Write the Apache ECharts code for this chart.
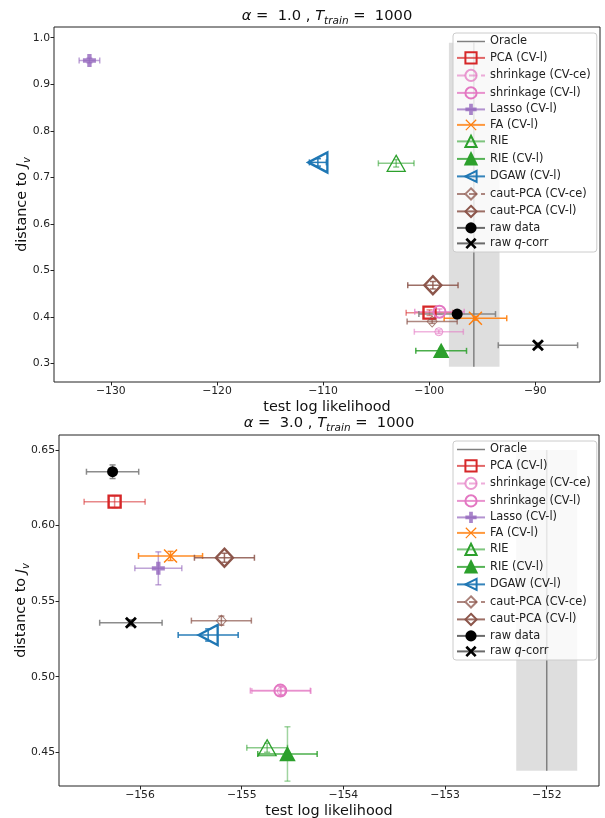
<!DOCTYPE html>
<html>
<head>
<meta charset="utf-8">
<script src="https://cdn.jsdelivr.net/npm/echarts@6/dist/echarts.min.js"></script>
<style>html,body{margin:0;padding:0;background:#fff}#c{width:605px;height:818px}</style>
</head>
<body>
<div id="c"></div>
<script>
// ---------- data ----------
const methods = ['PCA (CV-l)', 'shrinkage (CV-ce)', 'shrinkage (CV-l)', 'Lasso (CV-l)', 'FA (CV-l)', 'RIE',
  'RIE (CV-l)', 'DGAW (CV-l)', 'caut-PCA (CV-ce)', 'caut-PCA (CV-l)', 'raw data', 'raw q-corr'];

// alpha = 1.0
const llA1      = [-99.97, -99.09, -99.03, -132.02, -95.64, -103.11, -98.87, -110.49, -99.72, -99.65, -97.36, -89.75];
const llErrA1   = [2.2, 2.31, 2.33, 0.97, 2.95, 1.68, 2.39, 0.8, 2.36, 2.37, 3.61, 3.74];
const distA1    = [0.409, 0.368, 0.411, 0.951, 0.397, 0.730, 0.327, 0.732, 0.390, 0.468, 0.406, 0.339];
const distErrA1 = [0.006, 0.004, 0.006, 0.005, 0.004, 0.008, 0.005, 0.008, 0.004, 0.008, 0.006, 0.005];
const oracleLLA1   = -95.79;
const oracleBandA1 = [-98.14, -93.37];
const oracleSpanA1 = [0.293, 0.989];

// alpha = 3.0
const llA3      = [-156.25, -154.61, -154.62, -155.82, -155.70, -154.75, -154.55, -155.33, -155.20, -155.17, -156.27, -156.09];
const llErrA3   = [0.30, 0.29, 0.295, 0.231, 0.315, 0.20, 0.292, 0.295, 0.295, 0.295, 0.257, 0.307];
const distA3    = [0.6158, 0.4905, 0.4908, 0.5717, 0.5799, 0.4530, 0.4489, 0.5276, 0.5371, 0.5787, 0.6356, 0.5357];
const distErrA3 = [0.004, 0.003, 0.003, 0.0109, 0.003, 0.003, 0.018, 0.004, 0.003, 0.003, 0.0045, 0.002];
const oracleLLA3   = -152.0;
const oracleBandA3 = [-152.30, -151.70];
const oracleSpanA3 = [0.4378, 0.650];

// tick labels
const llTicksA1   = [-130, -120, -110, -100, -90];
const distTicksA1 = [0.3, 0.4, 0.5, 0.6, 0.7, 0.8, 0.9, 1.0];
const llTicksA3   = [-156, -155, -154, -153, -152];
const distTicksA3 = [0.45, 0.50, 0.55, 0.60, 0.65];

// ---------- styles ----------
const FONT = 'DejaVu Sans';
const C = {blue:'#1f77b4', orange:'#ff7f0e', green:'#2ca02c', red:'#d62728', purple:'#9467bd', brown:'#8c564b', pink:'#e377c2'};
const NONE = 'rgba(0,0,0,0)';
const PLUS = 'path://M-1,-3H1V-1H3V1H1V3H-1V1H-3V-1H-1Z';
const XTHIN = 'path://M-10,-8.5L-8.5,-10L0,-1.5L8.5,-10L10,-8.5L1.5,0L10,8.5L8.5,10L0,1.5L-8.5,10L-10,8.5L-1.5,0Z';
const XTHICK = 'path://M-3,-2L-2,-3L0,-1L2,-3L3,-2L1,0L3,2L2,3L0,1L-2,3L-3,2L-1,0Z';
const TRILEFT = 'path://M-1,0L1,-1L1,1Z';
const styles = [
  {symbol:'rect', size:12, fill:NONE, stroke:C.red, bw:2.4, err:'rgba(214,39,40,0.55)', line:'rgba(214,39,40,0.7)'},
  {symbol:'circle', size:8, fill:NONE, stroke:'rgba(227,119,194,0.75)', bw:1, err:'rgba(227,119,194,0.55)', line:'rgba(227,119,194,0.6)', dash:true},
  {symbol:'circle', size:12, fill:NONE, stroke:C.pink, bw:2, err:'rgba(227,119,194,0.7)', line:'rgba(227,119,194,0.8)'},
  {symbol:PLUS, size:13, fill:'rgba(148,103,189,0.8)', stroke:NONE, bw:0, err:'rgba(148,103,189,0.6)', line:'rgba(148,103,189,0.7)'},
  {symbol:XTHIN, size:14, fill:C.orange, stroke:NONE, bw:0, err:'rgba(255,127,14,0.9)', line:'rgba(255,127,14,0.8)'},
  {symbol:'triangle', size:[18,16], fill:NONE, stroke:C.green, bw:1.3, err:'rgba(44,160,44,0.55)', line:'rgba(44,160,44,0.6)'},
  {symbol:'triangle', size:[14,13], fill:C.green, stroke:C.green, bw:1.5, err:'rgba(44,160,44,0.85)', errY:'rgba(44,160,44,0.45)', line:'rgba(44,160,44,0.8)'},
  {symbol:TRILEFT, size:[19,20], fill:NONE, stroke:C.blue, bw:2.4, err:'rgba(31,119,180,0.95)', line:'rgba(31,119,180,0.9)'},
  {symbol:'diamond', size:[10,11], fill:NONE, stroke:'rgba(140,86,75,0.75)', bw:1, err:'rgba(140,86,75,0.7)', line:'rgba(140,86,75,0.7)', dash:true},
  {symbol:'diamond', size:[17,18], fill:NONE, stroke:C.brown, bw:2.4, err:'rgba(140,86,75,0.85)', line:'rgba(140,86,75,0.85)'},
  {symbol:'circle', size:11, fill:'#000', stroke:NONE, bw:0, err:'rgba(128,128,128,0.9)', line:'rgba(90,90,90,0.9)'},
  {symbol:XTHICK, size:12, fill:'#000', stroke:NONE, bw:0, err:'rgba(128,128,128,0.9)', line:'rgba(90,90,90,0.9)'}
];

function errRender(params, api) {
  const x = api.value(0), y = api.value(1), ex = api.value(2), ey = api.value(3), k = api.value(4);
  const st = styles[k];
  const l = api.coord([x - ex, y]), r = api.coord([x + ex, y]);
  const t = api.coord([x, y + ey]), b = api.coord([x, y - ey]);
  const cap = 3;
  const sx = {stroke: st.err, lineWidth: 1.5};
  const sy = {stroke: st.errY || st.err, lineWidth: 1.5};
  return {type:'group', children:[
    {type:'line', shape:{x1:l[0], y1:l[1], x2:r[0], y2:r[1]}, style:sx},
    {type:'line', shape:{x1:l[0], y1:l[1]-cap, x2:l[0], y2:l[1]+cap}, style:sx},
    {type:'line', shape:{x1:r[0], y1:r[1]-cap, x2:r[0], y2:r[1]+cap}, style:sx},
    {type:'line', shape:{x1:t[0], y1:t[1], x2:b[0], y2:b[1]}, style:sy},
    {type:'line', shape:{x1:t[0]-cap, y1:t[1], x2:t[0]+cap, y2:t[1]}, style:sy},
    {type:'line', shape:{x1:b[0]-cap, y1:b[1], x2:b[0]+cap, y2:b[1]}, style:sy}
  ]};
}

function chartSeries(gi, ll, llErr, dist, distErr, oLL, oBand, oSpan) {
  const out = [];
  out.push({
    type:'line', name:'Oracle', xAxisIndex:gi, yAxisIndex:gi, silent:true, z:1,
    data:[[oLL, oSpan[0]], [oLL, oSpan[1]]], symbol:'none',
    lineStyle:{color:'#808080', width:1.5}, itemStyle:{color:'#808080'},
    markArea:{silent:true, itemStyle:{color:'rgba(0,0,0,0.13)'},
      data:[[{coord:[oBand[0], oSpan[0]]}, {coord:[oBand[1], oSpan[1]]}]]}
  });
  out.push({
    type:'custom', xAxisIndex:gi, yAxisIndex:gi, silent:true, z:2,
    data: methods.map((m, i) => [ll[i], dist[i], llErr[i], distErr[i], i]),
    encode:{x:0, y:1}, renderItem: errRender
  });
  methods.forEach((m, i) => {
    const st = styles[i];
    out.push({
      type:'line', name:m, xAxisIndex:gi, yAxisIndex:gi, silent:true, z:3,
      data:[[ll[i], dist[i]]], showSymbol:true, symbol:st.symbol, symbolSize:st.size,
      itemStyle:{color:st.fill, borderColor:st.stroke, borderWidth:st.bw},
      lineStyle:{color:st.line, width:1.5, type: st.dash ? 'dashed' : 'solid'},
      emphasis:{disabled:true}
    });
  });
  return out;
}

const minus = v => (v < 0 ? '\u2212' : '') + Math.abs(v);
const axisCommon = {
  axisLine:{show:false}, splitLine:{show:false},
  axisTick:{show:true, length:3.5, lineStyle:{color:'#222', width:1}},
  axisLabel:{fontSize:10.8, fontFamily:FONT, color:'#222', margin:4}
};
const nameRich = {
  n:{fontSize:14.4, fontFamily:FONT, color:'#111', lineHeight:20},
  i:{fontSize:14.4, fontFamily:FONT, fontStyle:'italic', color:'#111', lineHeight:20},
  s:{fontSize:10, fontFamily:FONT, fontStyle:'italic', color:'#111', lineHeight:10, verticalAlign:'bottom'}
};
function xAxis(gi, min, max, ticks) {
  return Object.assign({}, axisCommon, {
    type:'value', gridIndex:gi, min, max,
    axisTick:Object.assign({}, axisCommon.axisTick, {customValues:ticks}),
    axisLabel:Object.assign({}, axisCommon.axisLabel, {customValues:ticks, formatter:minus}),
    name:'test log likelihood', nameLocation:'middle', nameGap:18, nameMoveOverlap:false,
    nameTextStyle:{fontSize:14.4, fontFamily:FONT, color:'#111'}
  });
}
function yAxis(gi, min, max, ticks, dec, gap) {
  return Object.assign({}, axisCommon, {
    type:'value', gridIndex:gi, min, max,
    axisTick:Object.assign({}, axisCommon.axisTick, {customValues:ticks}),
    axisLabel:Object.assign({}, axisCommon.axisLabel, {customValues:ticks, formatter: v => v.toFixed(dec)}),
    name:'{n|distance to }{i|J}{s|v}', nameLocation:'middle', nameGap:gap, nameRotate:90, nameMoveOverlap:false,
    nameTextStyle:{rich:nameRich}
  });
}
function legend(top) {
  return {
    left:453, top, orient:'vertical', selectedMode:false,
    itemWidth:28, itemHeight:14, itemGap:4.3, padding:[3,6,3,3],
    backgroundColor:'rgba(255,255,255,0.8)', borderColor:'#cccccc', borderWidth:1, borderRadius:3,
    textStyle:{fontSize:11.4, fontFamily:FONT, color:'#222',
      rich:{q:{fontSize:11.4, fontFamily:FONT, fontStyle:'italic', color:'#222'}}},
    formatter: n => n === 'raw q-corr' ? 'raw {q|q}-corr' : n,
    data:[{name:'Oracle', icon:'path://M0,0H28V1.5H0Z'}].concat(methods)
  };
}
const titleRich = {
  i:{fontSize:14.7, fontFamily:FONT, fontStyle:'italic', fill:'#111', lineHeight:22},
  s:{fontSize:10.5, fontFamily:FONT, fontStyle:'italic', fill:'#111', lineHeight:10, verticalAlign:'bottom'},
  n:{fontSize:14.7, fontFamily:FONT, fill:'#111', lineHeight:22}
};
function titleText(x, y, a) {
  return {type:'text', x, y, silent:true, style:{
    text:'{i|α}{n| =  ' + a + ' , }{i|T}{s|train}{n| =  1000}', rich:titleRich,
    align:'center', verticalAlign:'middle', fontSize:14.7, fontFamily:FONT, fill:'#111'}};
}

const chart = echarts.init(document.getElementById('c'), null, {renderer:'canvas'});
chart.setOption({
  animation:false,
  backgroundColor:'#fff',
  grid:[
    {left:54, top:27, width:546, height:355, show:true, borderColor:'#222', borderWidth:1, backgroundColor:'rgba(0,0,0,0)', containLabel:false, outerBoundsMode:'none'},
    {left:59, top:435, width:540, height:351, show:true, borderColor:'#222', borderWidth:1, backgroundColor:'rgba(0,0,0,0)', containLabel:false, outerBoundsMode:'none'}
  ],
  xAxis:[xAxis(0, -135.36, -83.90, llTicksA1), xAxis(1, -156.797, -151.486, llTicksA3)],
  yAxis:[yAxis(0, 0.2600, 1.0230, distTicksA1, 1, 22), yAxis(1, 0.4277, 0.6599, distTicksA3, 2, 28)],
  legend:[legend(33), legend(441)],
  graphic:[titleText(327, 16, '1.0'), titleText(329, 423, '3.0')],
  series: chartSeries(0, llA1, llErrA1, distA1, distErrA1, oracleLLA1, oracleBandA1, oracleSpanA1)
    .concat(chartSeries(1, llA3, llErrA3, distA3, distErrA3, oracleLLA3, oracleBandA3, oracleSpanA3))
});
</script>
</body>
</html>
